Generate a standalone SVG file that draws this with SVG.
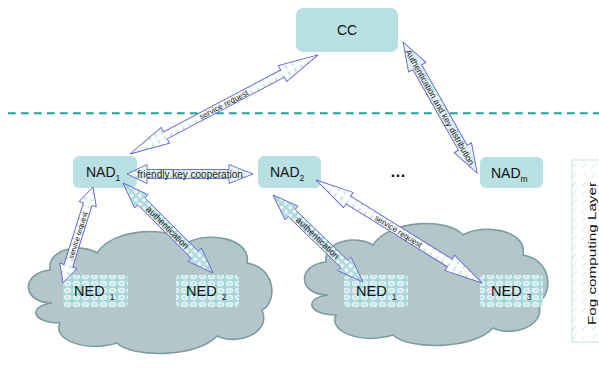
<svg xmlns="http://www.w3.org/2000/svg" width="599" height="376" viewBox="0 0 599 376">
<style>
  .box { fill: #b9e0e3; }
  .lbl { font-family: "Liberation Sans", Arial, sans-serif; fill: #111; }
  .arr { stroke: #6464cc; stroke-width: 0.9; stroke-linejoin: miter; }
  .atx { font-family: "Liberation Sans", Arial, sans-serif; fill: #222; text-anchor: middle; }
  .cloud { fill: #b3c7cb; stroke: #7d9ca2; stroke-width: 1.6; }
</style>
<defs>
  <pattern id="pdash" width="7" height="7" patternUnits="userSpaceOnUse">
    <rect width="7" height="7" fill="#ffffff"/>
    <line x1="3.5" y1="0.5" x2="3.5" y2="4.5" stroke="#b5dde1" stroke-width="1.6"/>
  </pattern>
  <pattern id="pdots" width="6" height="6" patternUnits="userSpaceOnUse">
    <rect width="6" height="6" fill="#aed9dd"/>
    <circle cx="3" cy="3" r="2.1" fill="#eef8f9"/>
  </pattern>
  <pattern id="plight" width="6" height="6" patternUnits="userSpaceOnUse">
    <rect width="6" height="6" fill="#e9f5f6"/>
    <circle cx="3" cy="3" r="1.4" fill="#c0e2e5"/>
  </pattern>
  <pattern id="pned" width="9" height="7" patternUnits="userSpaceOnUse">
    <rect width="9" height="7" fill="#a9d8dc"/>
    <ellipse cx="4.5" cy="3.5" rx="3.6" ry="2.7" fill="#e8f5f6"/>
    <ellipse cx="4.5" cy="3.5" rx="2.2" ry="1.5" fill="#c6e6e8"/>
  </pattern>
  <pattern id="phatch" width="10" height="9" patternUnits="userSpaceOnUse">
    <rect width="10" height="9" fill="#ffffff"/>
    <line x1="2" y1="6" x2="6" y2="2" stroke="#cfe9eb" stroke-width="1"/>
  </pattern>
  <path id="cloudShape" d="M 30,75 C 0,75 -2,45 28,42 C 25,20 60,15 75,25 C 90,0 150,-3 165,15 C 185,3 230,10 225,35 C 255,40 255,75 240,82 C 250,105 215,118 195,108 C 175,130 110,130 95,115 C 60,125 30,110 38,95 C 10,95 5,78 30,75 Z"/>
</defs>

<rect width="599" height="376" fill="#ffffff"/>

<!-- fog computing layer legend -->
<g id="fog-layer">
  <rect x="572" y="160" width="30" height="182" fill="url(#phatch)" stroke="#c4e3e6" stroke-width="1"/>
  <text class="lbl" font-size="10.5" text-anchor="middle" transform="translate(596,253.5) rotate(-90)" textLength="143" lengthAdjust="spacingAndGlyphs">Fog computing Layer</text>
</g>

<!-- dashed layer separator -->
<line id="separator" x1="8" y1="113.3" x2="599" y2="113.3" stroke="#2b9d97" stroke-width="2" stroke-dasharray="7.7 5.3"/>

<!-- clouds -->
<g id="cloud-left"><use href="#cloudShape" class="cloud" transform="translate(22,228)"/></g>
<g id="cloud-right"><use href="#cloudShape" class="cloud" transform="translate(298,220)"/></g>

<!-- nodes -->
<g id="CC">
  <rect class="box" x="296" y="8" width="102" height="44" rx="7"/>
  <text class="lbl" x="347" y="35" font-size="14" text-anchor="middle">CC</text>
</g>
<g id="NAD1">
  <rect class="box" x="73" y="156" width="64" height="32" rx="6"/>
  <text class="lbl" x="86" y="177" font-size="14">NAD<tspan font-size="8.5" dy="3.5">1</tspan></text>
</g>
<g id="NAD2">
  <rect class="box" x="258" y="156" width="63" height="32" rx="6"/>
  <text class="lbl" x="270" y="177" font-size="14">NAD<tspan font-size="8.5" dy="3.5">2</tspan></text>
</g>
<g id="dots">
  <text class="lbl" x="398" y="177" font-size="16" text-anchor="middle" font-weight="bold">…</text>
</g>
<g id="NADm">
  <rect class="box" x="480" y="157" width="63" height="31" rx="6"/>
  <text class="lbl" x="491" y="178" font-size="14">NAD<tspan font-size="8.5" dy="3.5">m</tspan></text>
</g>
<g id="NED1-left">
  <rect x="63" y="275" width="65" height="32" rx="4" fill="url(#pned)"/>
  <text class="lbl" x="74" y="296" font-size="14.5">NED<tspan font-size="8.5" dx="5" dy="3.5">1</tspan></text>
</g>
<g id="NED2">
  <rect x="176" y="275" width="63" height="32" rx="4" fill="url(#pned)"/>
  <text class="lbl" x="186" y="296" font-size="14.5">NED<tspan font-size="8.5" dx="5" dy="3.5">2</tspan></text>
</g>
<g id="NED1-right">
  <rect x="344" y="275" width="64" height="32" rx="4" fill="url(#pned)"/>
  <text class="lbl" x="356" y="296" font-size="14.5">NED<tspan font-size="8.5" dx="5" dy="3.5">1</tspan></text>
</g>
<g id="NED3">
  <rect x="480" y="275" width="63" height="32" rx="4" fill="url(#pned)"/>
  <text class="lbl" x="491" y="296" font-size="14.5">NED<tspan font-size="8.5" dx="5" dy="3.5">3</tspan></text>
</g>

<!-- connectors: block double arrows -->
<g id="connectors">
  <g transform="translate(130,154) rotate(-27.8)">
    <polygon class="arr" fill="url(#pdash)" points="0,0 40,-9 40,-4 172.5,-4 172.5,-9 212.5,0 172.5,9 172.5,4 40,4 40,9"/>
    <text class="atx" x="106" y="2.8" font-size="8">service request</text>
  </g>
  <g transform="translate(403,42) rotate(60.5)">
    <polygon class="arr" fill="url(#plight)" points="0,0 29,-10 29,-5 121.5,-5 121.5,-10 150.5,0 121.5,10 121.5,5 29,5 29,10"/>
    <text class="atx" x="75" y="3" font-size="8.6">Authentication and key distribution</text>
  </g>
  <g transform="translate(127,174)">
    <polygon class="arr" fill="url(#plight)" points="0,0 20,-9.5 20,-4.5 102,-4.5 102,-9.5 126,0 102,9.5 102,4.5 20,4.5 20,9.5"/>
    <text class="atx" x="63" y="3.5" font-size="10">friendly key cooperation</text>
  </g>
  <g transform="translate(63,283) rotate(-72.6)">
    <polygon class="arr" fill="url(#pdash)" points="0,0 18,-9 18,-4.5 82.6,-4.5 82.6,-9 100.6,0 82.6,9 82.6,4.5 18,4.5 18,9"/>
    <text class="atx" x="50" y="2.5" font-size="7.2">service request</text>
  </g>
  <g transform="translate(123,183) rotate(45)">
    <polygon class="arr" fill="url(#pdots)" points="0,0 26,-9.5 26,-5 101.3,-5 101.3,-9.5 127.3,0 101.3,9.5 101.3,5 26,5 26,9.5"/>
    <text class="atx" x="63" y="3" font-size="9">authentication</text>
  </g>
  <g transform="translate(273,195) rotate(44)">
    <polygon class="arr" fill="url(#pdots)" points="0,0 26,-9.5 26,-5 99.2,-5 99.2,-9.5 125.2,0 99.2,9.5 99.2,5 26,5 26,9.5"/>
    <text class="atx" x="62" y="3" font-size="9">authentication</text>
  </g>
  <g transform="translate(316,180) rotate(31.8)">
    <polygon class="arr" fill="url(#pdash)" points="0,0 38,-9 38,-4.5 157.4,-4.5 157.4,-9 195.4,0 157.4,9 157.4,4.5 38,4.5 38,9"/>
    <text class="atx" x="97" y="2.8" font-size="8">service request</text>
  </g>
</g>
</svg>
